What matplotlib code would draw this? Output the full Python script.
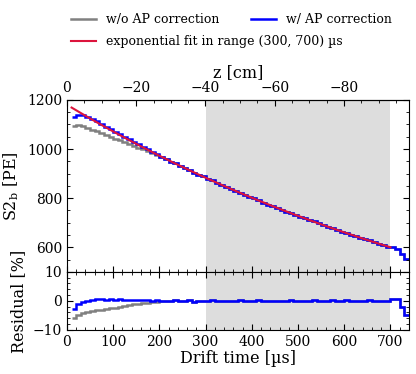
import numpy as np
import matplotlib.pyplot as plt
from matplotlib.ticker import MultipleLocator, FixedLocator

plt.rcParams['font.family'] = 'DejaVu Serif'
plt.rcParams['mathtext.fontset'] = 'dejavuserif'

# drift time bins [us]
bin_edges = np.arange(10, 750, 10)

# exponential fit parameters (fit range 300-700 us)
fit_amp = 1180.0
fit_tau = 1035.0
fit_range = (300, 700)

# drift velocity for the z axis [cm/us]
v_drift = 0.1335
z_ticks = [0, -20, -40, -60, -80]

# residuals [%], one per bin
res_corr = [
    -2.8, -1.0, -0.3, 0.0, 0.2, 0.5, 0.5, 0.4, 0.5, 0.4,
    0.5, 0.3, 0.4, 0.3, 0.4, 0.2, 0.3, 0.1, 0.2, 0.0,
    0.1, -0.2, 0.4, 0.1, -0.1, 0.2, -0.3, 0.0, 0.1, -0.1,
    0.2, 0.0, -0.2, 0.1, 0.0, -0.1, 0.2, -0.2, 0.0, 0.1,
    0.3, -0.1, -0.2, 0.1, 0.0, 0.1, -0.1, 0.2, 0.0, -0.2,
    0.1, -0.1, 0.3, 0.0, -0.2, 0.1, 0.2, -0.1, 0.0, 0.3,
    -0.2, 0.1, 0.0, -0.1, 0.2, 0.0, -0.2, 0.1, 0.0, 0.6,
    0.6, -2.2, -5.0,
]
# without AP correction: only the first bins differ
res_raw_early = [
    -6.0, -4.7, -4.3, -3.9, -3.6, -3.2, -3.0, -2.8, -2.6, -2.3,
    -2.0, -1.7, -1.5, -1.2, -1.0, -0.8, -0.6, -0.4, -0.3, -0.2,
]

res_corr = np.array(res_corr)
res_raw = np.concatenate([res_raw_early, res_corr[len(res_raw_early):]])

centers = 0.5 * (bin_edges[:-1] + bin_edges[1:])
fit_at_bins = fit_amp * np.exp(-centers / fit_tau)
s2_corr = fit_at_bins * (1 + res_corr / 100)
s2_raw = fit_at_bins * (1 + res_raw / 100)

t_fit = np.linspace(bin_edges[0], fit_range[1], 200)
s2_fit = fit_amp * np.exp(-t_fit / fit_tau)

fig = plt.figure(figsize=(4.16, 3.74), dpi=100)
ax = fig.add_axes([0.161, 0.273, 0.822, 0.460])
axr = fig.add_axes([0.161, 0.118, 0.822, 0.155], sharex=ax)

shade = '#dddddd'
for a in (ax, axr):
    a.axvspan(*fit_range, color=shade, lw=0, zorder=0)

l_raw = ax.stairs(s2_raw, bin_edges, baseline=None, color='grey', lw=1.8,
                  label='w/o AP correction')
l_corr = ax.stairs(s2_corr, bin_edges, baseline=None, color='blue', lw=1.8,
                   label='w/ AP correction')
l_fit, = ax.plot(t_fit, s2_fit, color='crimson', lw=1.5,
                 label='exponential fit in range (300, 700) µs')

axr.stairs(res_raw, bin_edges, baseline=None, color='grey', lw=1.8)
axr.stairs(res_corr, bin_edges, baseline=None, color='blue', lw=1.8)

tick_fs = 10
label_fs = 11.5

ax.set_xlim(0, 740)
ax.set_ylim(500, 1200)
ax.set_yticks([600, 800, 1000, 1200])
ax.yaxis.set_minor_locator(MultipleLocator(50))
ax.xaxis.set_major_locator(MultipleLocator(100))
ax.xaxis.set_minor_locator(MultipleLocator(20))
ax.tick_params(which='both', direction='in', right=True, top=False, labelbottom=False)
ax.tick_params(which='major', length=4, labelsize=tick_fs)
ax.tick_params(which='minor', length=2)
ax.set_ylabel('S2$_\\mathrm{b}$ [PE]', fontsize=label_fs)

axr.set_ylim(-10, 10)
axr.set_yticks([-10, 0, 10])
axr.yaxis.set_minor_locator(MultipleLocator(2))
axr.tick_params(which='both', direction='in', right=True, top=True)
axr.tick_params(which='major', length=4, labelsize=tick_fs)
axr.tick_params(which='minor', length=2)
axr.set_ylabel('Residual [%]', fontsize=label_fs)
axr.set_xlabel('Drift time [µs]', fontsize=label_fs, labelpad=1)

secax = ax.secondary_xaxis('top', functions=(lambda t: -t * v_drift, lambda z: -z / v_drift))
secax.xaxis.set_major_locator(FixedLocator(z_ticks))
secax.xaxis.set_minor_locator(FixedLocator(np.arange(0, -100, -5)))
secax.tick_params(which='both', direction='in')
secax.tick_params(which='major', length=4, labelsize=tick_fs)
secax.tick_params(which='minor', length=2)
secax.set_xlabel('z [cm]', fontsize=label_fs, labelpad=3)

fig.align_ylabels([ax, axr])

fig.legend(handles=[l_raw, l_fit], loc='upper left', bbox_to_anchor=(0.143, 0.995),
           frameon=False, fontsize=9, handlelength=2.0, handletextpad=0.8,
           labelspacing=0.75)
fig.legend(handles=[l_corr], loc='upper left', bbox_to_anchor=(0.576, 0.995),
           frameon=False, fontsize=9, handlelength=2.0, handletextpad=0.8)

fig.savefig('out.png', dpi=100)
